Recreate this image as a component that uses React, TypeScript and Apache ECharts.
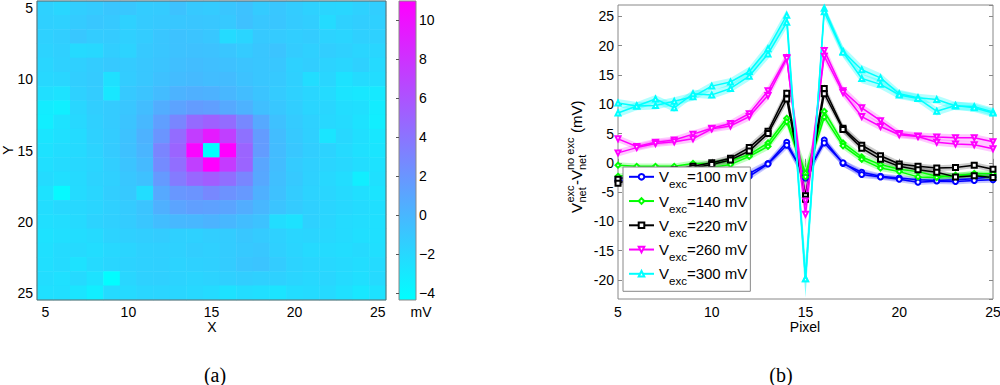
import React, { useEffect, useRef } from 'react';
import * as echarts from 'echarts';

const FONT = '"Liberation Sans", Arial, Helvetica, sans-serif';
const SERIF = '"Liberation Serif", "Times New Roman", serif';

// ---------- panel (a): heat map ----------
const pixels = [5, 6, 7, 8, 9, 10, 11, 12, 13, 14, 15, 16, 17, 18, 19, 20, 21, 22, 23, 24, 25];
const pixelLabels = pixels.map(String);
const cbMin = -4.34;
const cbMax = 10.98;

// rows: Y = 5..25, columns: X = 5..25 (mV)
const heatRows: number[][] = [
  [-1.6, -1.9, -1.4, -1.2, -0.9, -1.0, -1.3, -1.2, -0.7, -1.1, -1.2, -0.9, -0.7, -1.2, -1.0, -1.3, -1.6, -1.8, -1.9, -1.6, -1.4],
  [-1.5, -1.6, -1.2, -1.0, -1.1, -1.6, -1.2, -1.1, -1.0, -0.9, -1.0, -1.1, -0.6, -1.0, -0.9, -1.2, -1.4, -2.2, -1.6, -1.4, -1.5],
  [-1.6, -1.4, -1.0, -1.3, -1.2, -1.5, -1.3, -0.9, -0.7, -0.8, -1.0, -2.2, -1.8, -1.1, -1.2, -1.4, -1.3, -1.7, -1.8, -1.5, -1.6],
  [-1.7, -1.5, -2.1, -2.0, -1.4, -1.7, -1.1, -0.9, -0.7, -0.6, -0.7, -0.9, -1.2, -0.9, -0.8, -1.3, -1.5, -1.4, -1.6, -1.8, -1.9],
  [-1.9, -1.6, -1.5, -1.3, -1.1, -1.2, -1.0, -0.8, -0.5, -0.4, -0.5, -0.6, -0.8, -0.9, -1.0, -1.6, -1.4, -1.7, -1.9, -1.6, -2.1],
  [-2.0, -1.9, -1.4, -1.2, -2.5, -1.3, -1.0, -0.6, -0.3, -0.2, -0.4, -0.3, -0.7, -0.9, -1.1, -1.5, -2.3, -1.9, -2.6, -2.2, -2.3],
  [-2.4, -2.6, -1.6, -1.3, -2.9, -1.1, -0.8, -0.3, 0.2, 0.4, 0.3, 0.0, -0.4, -0.8, -1.2, -1.6, -1.9, -2.2, -2.7, -2.9, -3.0],
  [-3.2, -3.4, -1.9, -1.4, -1.2, -0.9, -0.4, 0.6, 1.2, 1.6, 1.4, 0.8, 0.3, -0.5, -1.0, -1.4, -1.8, -1.9, -2.3, -2.4, -3.2],
  [-3.3, -2.6, -2.0, -1.5, -1.2, -0.8, -0.1, 1.4, 2.9, 4.6, 5.2, 4.5, 2.8, 0.8, -0.6, -1.2, -1.6, -2.0, -2.2, -2.6, -3.3],
  [-2.8, -2.5, -2.2, -1.6, -1.3, -0.7, 0.3, 2.0, 4.5, 7.3, 9.4, 7.2, 4.2, 1.6, -0.4, -1.1, -1.5, -2.8, -2.0, -2.4, -2.9],
  [-2.6, -2.3, -2.1, -1.7, -1.2, -0.6, 0.1, 3.0, 5.0, 10.6, -4.34, 10.98, 5.0, 1.6, -0.3, -1.0, -1.4, -1.7, -2.1, -2.5, -2.8],
  [-2.4, -2.2, -2.0, -1.8, -1.4, -0.8, -0.2, 2.6, 4.4, 7.2, 10.98, 7.5, 5.0, 1.0, -0.4, -1.2, -1.5, -1.8, -2.0, -2.3, -2.6],
  [-2.2, -2.4, -2.1, -1.7, -1.5, -1.0, -0.6, 1.7, 3.6, 4.8, 5.4, 4.4, 2.9, 0.9, -0.5, -1.1, -1.6, -2.0, -2.3, -3.3, -2.5],
  [-2.6, -4.0, -2.2, -1.9, -1.4, -1.1, -2.3, 0.8, 1.9, 2.1, 2.8, 2.2, 1.8, 0.4, -0.6, -1.3, -1.7, -1.9, -2.1, -2.4, -2.7],
  [-2.3, -2.0, -2.0, -1.8, -1.5, -1.2, -0.8, 0.4, 1.1, 1.4, 1.3, 1.1, 0.6, 0.0, -0.8, -1.2, -1.5, -1.8, -2.0, -2.2, -2.4],
  [-2.4, -2.3, -2.1, -1.7, -1.5, -1.3, -0.9, -0.4, -0.1, 0.0, 0.2, 0.0, -0.4, -0.7, -2.3, -2.6, -1.6, -1.9, -2.2, -2.3, -2.5],
  [-2.6, -2.4, -2.3, -2.1, -1.7, -1.5, -1.4, -1.3, -1.5, -1.6, -1.4, -1.3, -1.0, -1.2, -1.6, -1.9, -1.8, -2.0, -2.2, -2.4, -2.5],
  [-2.5, -2.2, -2.1, -2.3, -2.0, -1.8, -1.6, -1.5, -1.6, -1.4, -1.5, -1.3, -1.1, -1.0, -1.5, -1.8, -2.1, -2.2, -2.3, -2.1, -2.4],
  [-2.4, -2.2, -2.6, -2.1, -1.9, -1.7, -1.6, -1.5, -1.7, -1.6, -1.5, -1.3, -0.9, -0.8, -1.3, -1.7, -1.9, -2.0, -2.1, -2.3, -2.2],
  [-2.3, -2.5, -2.1, -2.6, -4.2, -1.9, -1.6, -1.5, -1.7, -1.8, -1.7, -1.5, -1.4, -1.5, -1.6, -1.8, -2.0, -1.9, -2.2, -2.4, -2.1],
  [-2.5, -2.4, -2.8, -3.3, -2.2, -2.1, -1.9, -1.8, -1.9, -2.0, -2.2, -2.6, -2.3, -2.4, -2.7, -2.3, -2.2, -2.1, -2.5, -2.9, -2.6],
];

// ---------- panel (b): line profiles ----------
const yMin = -23.25;
const yMax = 26.95;
const voltages = [100, 140, 220, 260, 300];
const lineColors = ['#0000ff', '#00ff00', '#000000', '#ff00ff', '#00ffff'];
const bandColors = ['rgba(0,0,255,0.22)', 'rgba(0,255,0,0.25)', 'rgba(0,0,0,0.2)', 'rgba(255,0,255,0.22)', 'rgba(0,255,255,0.3)'];
const markerSymbols = ['emptyCircle', 'emptyDiamond', 'emptyRect', 'emptyTriangle', 'emptyTriangle'];
const markerRotations = [0, 0, 0, 180, 0];

const blueA = [-2.6, -2.7, -2.7, -2.6, -2.5, -2.4, -2.2, -1.8, -0.1, 3.5, -2.6, 3.9, -0.1, -1.6, -2.3, -2.6, -2.9, -3.0, -2.9, -2.7, -2.3];
const blueB = [-3.0, -3.0, -2.9, -2.8, -2.7, -2.6, -2.4, -2.3, -0.2, 3.0, -2.2, 3.4, 0.0, -2.0, -2.4, -2.8, -3.3, -3.1, -3.2, -3.0, -2.9];
const greenA = [-0.4, -0.6, -0.6, -0.6, -0.1, -0.1, 0.4, 1.4, 3.4, 7.6, -1.8, 8.8, 3.4, 1.0, -0.3, -1.1, -1.5, -2.3, -2.3, -1.8, -1.8];
const greenB = [-2.3, -2.0, -1.8, -1.6, -1.2, -0.8, -0.3, 1.1, 2.8, 7.0, -2.4, 7.8, 2.9, 0.6, -0.9, -1.5, -2.4, -2.5, -2.1, -2.0, -2.5];
const blackA = [-2.8, -2.0, -1.6, -1.2, -0.6, 0.0, 0.8, 2.6, 5.4, 11.9, -5.6, 12.7, 5.9, 3.0, 1.2, -0.2, -0.6, -0.9, -0.8, -0.4, -1.1];
const blackB = [-3.5, -2.5, -2.0, -1.5, -0.9, -0.3, 0.5, 2.0, 5.0, 10.9, -6.2, 11.8, 5.7, 2.5, 0.6, -0.6, -1.2, -1.6, -2.4, -2.2, -2.5];
const magentaA = [4.1, 2.8, 3.5, 3.9, 4.9, 5.9, 6.7, 8.4, 12.3, 18.0, -8.8, 19.2, 12.3, 9.4, 7.2, 5.0, 4.6, 4.4, 4.3, 4.3, 3.6];
const magentaB = [1.7, 2.6, 3.3, 3.6, 4.1, 5.8, 6.3, 7.9, 11.5, 17.8, -6.5, 18.2, 12.0, 7.9, 6.2, 4.8, 4.5, 3.5, 3.2, 3.1, 2.4];
const cyanA = [10.2, 9.7, 9.8, 10.5, 11.3, 13.1, 13.8, 15.6, 19.5, 25.2, -19.8, 26.4, 19.0, 15.9, 14.5, 11.8, 11.1, 10.8, 9.7, 9.6, 8.7];
const cyanB = [8.5, 9.7, 10.9, 9.4, 11.8, 11.6, 12.7, 14.8, 18.6, 24.0, -19.8, 25.8, 18.9, 14.4, 13.4, 11.6, 11.0, 8.8, 9.8, 9.4, 8.5];

const errBlue = [0.5, 0.5, 0.5, 0.5, 0.5, 0.5, 0.5, 0.6, 0.6, 0.7, 1.0, 0.7, 0.6, 0.6, 0.5, 0.5, 0.5, 0.5, 0.5, 0.5, 0.5];
const errGreen = [0.5, 0.5, 0.5, 0.5, 0.5, 0.5, 0.5, 0.6, 0.6, 0.7, 1.6, 0.7, 0.6, 0.6, 0.5, 0.5, 0.5, 0.5, 0.5, 0.5, 0.5];
const errBlack = [0.5, 0.5, 0.5, 0.5, 0.5, 0.5, 0.6, 0.6, 0.7, 0.8, 1.6, 0.8, 0.7, 0.6, 0.6, 0.5, 0.5, 0.5, 0.5, 0.5, 0.5];
const errMagenta = [0.6, 0.6, 0.6, 0.6, 0.6, 0.6, 0.6, 0.7, 0.8, 0.9, 2.2, 0.9, 0.8, 0.7, 0.7, 0.6, 0.6, 0.6, 0.6, 0.6, 0.6];
const errCyan = [0.7, 0.7, 0.7, 0.7, 0.7, 0.7, 0.7, 0.8, 0.9, 1.0, 3.2, 1.0, 0.9, 0.8, 0.8, 0.7, 0.7, 0.7, 0.7, 0.7, 0.7];

const profilePairs = [
  [blueA, blueB],
  [greenA, greenB],
  [blackA, blackB],
  [magentaA, magentaB],
  [cyanA, cyanB],
];
const profileErrs = [errBlue, errGreen, errBlack, errMagenta, errCyan];

export default function App() {
  const ref = useRef<HTMLDivElement>(null);

  useEffect(() => {
    if (!ref.current) return;
    const chart = echarts.init(ref.current, null, { renderer: 'svg' });

    const heatData: number[][] = [];
    heatRows.forEach((row, yi) => row.forEach((v, xi) => heatData.push([xi, yi, v])));

    const axisGray = '#888888';
    const labelStyle = { color: '#000', fontFamily: FONT, fontSize: 14 };
    const everyFifth = (idx: number) => idx % 5 === 0;
    const txt = (text: string, size: number, align: string, family = FONT) => ({
      text, fontSize: size, fontFamily: family, fill: '#000',
      align, verticalAlign: 'middle', textAlign: align, textVerticalAlign: 'middle',
    });

    const series: any[] = [];
    series.push({
      type: 'heatmap',
      xAxisIndex: 0,
      yAxisIndex: 0,
      data: heatData,
      itemStyle: { borderWidth: 0 },
      emphasis: { disabled: true },
      silent: true,
      progressive: 0,
    });
    series.push({
      type: 'custom',
      xAxisIndex: 1,
      yAxisIndex: 1,
      silent: true,
      data: [[0, cbMin]],
      renderItem: (_p: any, api: any) => {
        const p0 = api.coord([0, cbMax]);
        const p1 = api.coord([1, cbMin]);
        return {
          type: 'rect',
          shape: { x: p0[0], y: p0[1], width: p1[0] - p0[0], height: p1[1] - p0[1] },
          style: {
            fill: new echarts.graphic.LinearGradient(0, 0, 0, 1, [
              { offset: 0, color: '#ff00ff' },
              { offset: 1, color: '#00ffff' },
            ]),
          },
        };
      },
    });

    // shaded bands
    profilePairs.forEach((pair, ci) => {
      pair.forEach((vals, li) => {
        const err = profileErrs[ci];
        series.push({
          type: 'custom',
          name: `band${ci}_${li}`,
          xAxisIndex: 2,
          yAxisIndex: 2,
          silent: true,
          z: 1,
          data: [[pixels[0], vals[0]]],
          renderItem: (_p: any, api: any) => {
            const pts: number[][] = [];
            for (let i = 0; i < pixels.length; i++) {
              pts.push(api.coord([pixels[i], Math.min(yMax, vals[i] + err[i])]));
            }
            for (let i = pixels.length - 1; i >= 0; i--) {
              pts.push(api.coord([pixels[i], Math.max(yMin, vals[i] - err[i])]));
            }
            return { type: 'polygon', shape: { points: pts }, style: { fill: bandColors[ci], stroke: 'none' } };
          },
        });
      });
    });

    // lines
    profilePairs.forEach((pair, ci) => {
      pair.forEach((vals) => {
        series.push({
          type: 'line',
          name: `V${voltages[ci]}`,
          xAxisIndex: 2,
          yAxisIndex: 2,
          z: 3,
          silent: true,
          data: pixels.map((p, i) => [p, vals[i]]),
          symbol: markerSymbols[ci],
          symbolRotate: markerRotations[ci],
          symbolSize: 5,
          showAllSymbol: true,
          lineStyle: { color: lineColors[ci], width: 1.5 },
          itemStyle: { color: lineColors[ci], borderWidth: 1 },
          emphasis: { disabled: true },
        });
      });
    });

    const option: any = {
      animation: false,
      backgroundColor: '#ffffff',
      textStyle: { fontFamily: FONT },
      grid: [
        { left: 37, top: 1, width: 349, height: 299, show: true, borderColor: '#666', borderWidth: 1, backgroundColor: 'transparent', z: 10, containLabel: false, outerBoundsMode: 'none' },
        { left: 399, top: 1, width: 17, height: 299, show: true, borderColor: axisGray, borderWidth: 1, backgroundColor: 'transparent', z: 10, containLabel: false, outerBoundsMode: 'none' },
        { left: 618, top: 5, width: 375, height: 294, show: true, borderColor: axisGray, borderWidth: 1, backgroundColor: 'transparent', z: 0, containLabel: false, outerBoundsMode: 'none' },
      ],
      xAxis: [
        {
          type: 'category', gridIndex: 0, data: pixelLabels, boundaryGap: true,
          axisLine: { show: false }, axisTick: { show: false }, splitLine: { show: false },
          axisLabel: { ...labelStyle, interval: everyFifth, margin: 5 },
        },
        { type: 'value', gridIndex: 1, min: 0, max: 1, show: false },
        {
          type: 'value', gridIndex: 2, min: 5, max: 25, interval: 5,
          axisLine: { show: false }, splitLine: { show: false },
          axisTick: { show: true, inside: true, length: 4, lineStyle: { color: axisGray } },
          axisLabel: { ...labelStyle, margin: 6 },
        },
        {
          type: 'value', gridIndex: 2, position: 'top', min: 5, max: 25, interval: 5,
          axisLine: { show: false }, splitLine: { show: false },
          axisTick: { show: true, inside: true, length: 4, lineStyle: { color: axisGray } },
          axisLabel: { show: false },
        },
      ],
      yAxis: [
        {
          type: 'category', gridIndex: 0, data: pixelLabels, inverse: true, boundaryGap: true,
          axisLine: { show: false }, axisTick: { show: false }, splitLine: { show: false },
          axisLabel: { ...labelStyle, interval: everyFifth, margin: 4 },
        },
        {
          type: 'value', gridIndex: 1, position: 'right', min: cbMin, max: cbMax, splitNumber: 8, z: 12,
          axisLine: { show: false }, splitLine: { show: false },
          axisTick: { show: true, inside: true, length: 3, lineStyle: { color: '#555' } },
          axisLabel: { ...labelStyle, margin: 3, showMinLabel: false, showMaxLabel: false,
            formatter: (v: number) => (Math.abs(v - Math.round(v)) < 1e-6 ? String(Math.round(v)).replace('-', '\u2212') : '') },
        },
        {
          type: 'value', gridIndex: 2, min: yMin, max: yMax, splitNumber: 10,
          axisLine: { show: false }, splitLine: { show: false },
          axisTick: { show: true, inside: true, length: 4, lineStyle: { color: axisGray } },
          axisLabel: { ...labelStyle, margin: 4, showMinLabel: false, showMaxLabel: false,
            formatter: (v: number) => (Math.abs(v % 5) < 1e-6 ? String(v) : '') },
        },
        {
          type: 'value', gridIndex: 2, position: 'right', min: yMin, max: yMax, splitNumber: 10,
          axisLine: { show: false }, splitLine: { show: false },
          axisTick: { show: true, inside: true, length: 4, lineStyle: { color: axisGray } },
          axisLabel: { show: false },
        },
      ],
      visualMap: {
        type: 'continuous', show: false, seriesIndex: 0, min: cbMin, max: cbMax,
        inRange: { color: ['#00ffff', '#ff00ff'] },
      },
      legend: {
        data: voltages.map((v) => ({ name: `V${v}` })),
        orient: 'vertical',
        left: 623,
        top: 167,
        itemWidth: 25,
        itemHeight: 7,
        itemGap: 3.25,
        padding: [2.3, 3, 4, 5],
        backgroundColor: '#ffffff',
        borderColor: axisGray,
        borderWidth: 1,
        borderRadius: 0,
        selectedMode: false,
        z: 20,
        formatter: (name: string) => `{m|V}{s|exc}{m|=${name.slice(1)} mV}`,
        textStyle: {
          color: '#000', fontFamily: FONT, fontSize: 15,
          rich: {
            m: { fontSize: 15, fontFamily: FONT, color: '#000', lineHeight: 22, verticalAlign: 'middle' },
            s: { fontSize: 11.5, fontFamily: FONT, color: '#000', lineHeight: 22, height: 7, verticalAlign: 'bottom' },
          },
        },
      },
      graphic: [
        { type: 'text', x: 212, y: 327, style: txt('X', 14, 'center') },
        { type: 'text', x: 8, y: 150, rotation: Math.PI / 2, style: txt('Y', 14, 'center') },
        { type: 'text', x: 421, y: 312, style: txt('mV', 14, 'center') },
        { type: 'text', x: 805, y: 327, style: txt('Pixel', 14, 'center') },
        { type: 'text', x: 215, y: 375, style: txt('(a)', 20, 'center', SERIF) },
        { type: 'text', x: 781, y: 375, style: txt('(b)', 20, 'center', SERIF) },
        {
          type: 'group', x: 576, y: 213, rotation: Math.PI / 2,
          children: [
            { type: 'text', x: 0, y: 0, style: txt('V', 15, 'left') },
            { type: 'text', x: 10.5, y: -6, style: txt('exc', 11, 'left') },
            { type: 'text', x: 10.5, y: 6, style: txt('net', 11, 'left') },
            { type: 'text', x: 28, y: 0, style: txt('-V', 15, 'left') },
            { type: 'text', x: 43, y: -6, style: txt('no exc', 11, 'left') },
            { type: 'text', x: 43, y: 6, style: txt('net', 11, 'left') },
            { type: 'text', x: 80, y: 0, style: txt('(mV)', 15, 'left') },
          ],
        },
      ],
      series,
    };

    chart.setOption(option);
    return () => chart.dispose();
  }, []);

  return (
    <div
      ref={ref}
      style={{ position: 'absolute', left: 0, top: 0, width: 1000, height: 385, background: '#fff' }}
    />
  );
}
